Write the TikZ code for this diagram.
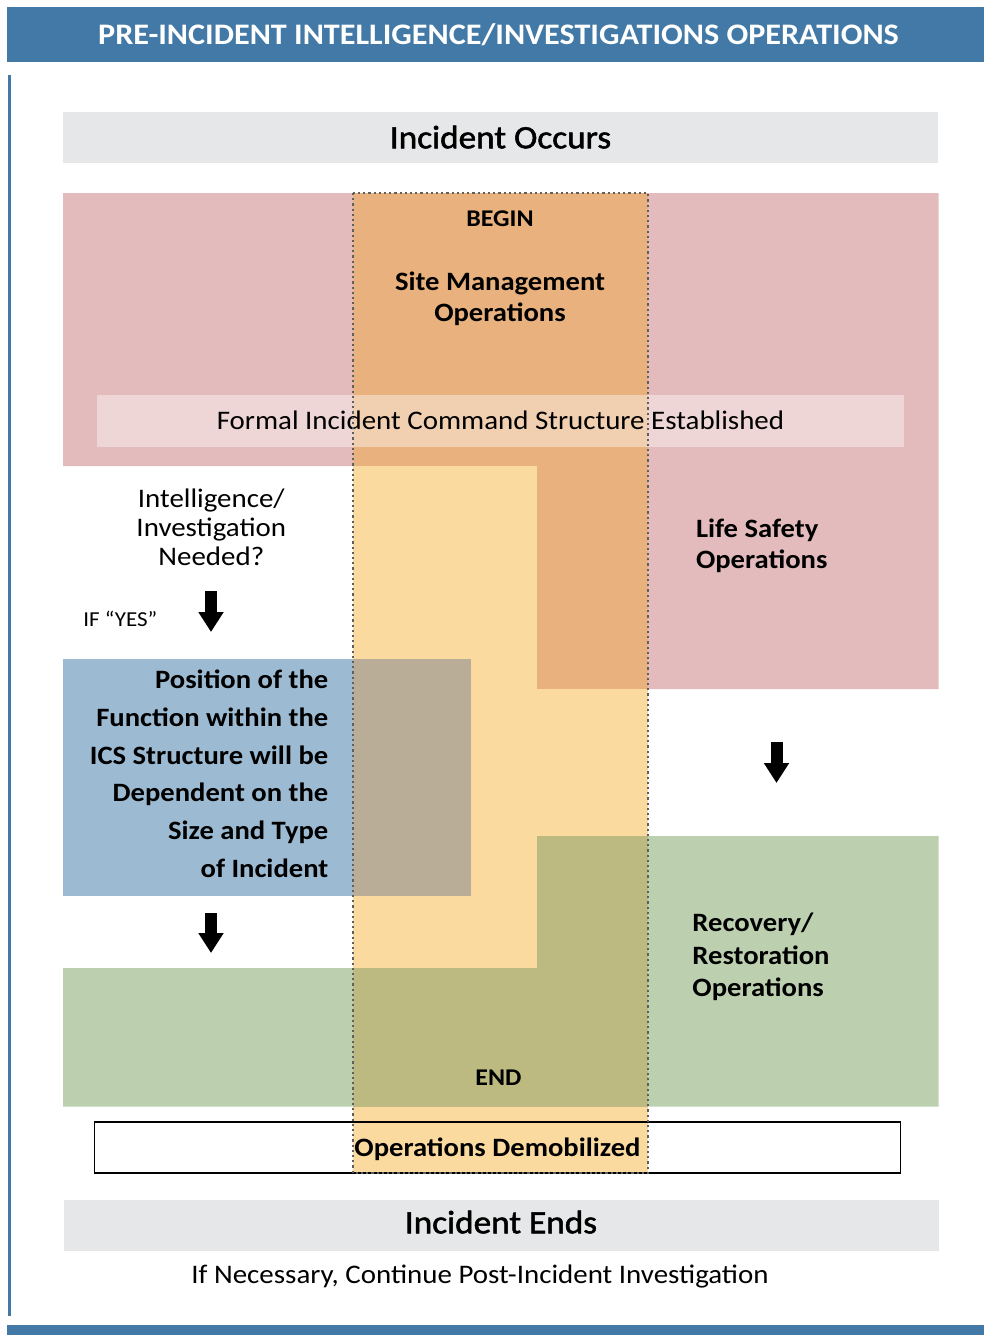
\documentclass[tikz,border=0pt]{standalone}
\usepackage{fontspec}
\setmainfont{Carlito}[FakeStretch=1.08]
\newfontfamily\heavyfont{Carlito}[FakeStretch=1.08, FakeBold=1.6]
\usetikzlibrary{arrows.meta}
\definecolor{hdr}{HTML}{4279A6}
\definecolor{grayc}{HTML}{E6E7E8}
\definecolor{pinkc}{HTML}{E3BBBD}
\definecolor{orangec}{HTML}{E9B17D}
\definecolor{yelc}{HTML}{FBDAA0}
\definecolor{bluec}{HTML}{9CBBD3}
\definecolor{tanc}{HTML}{B9AD98}
\definecolor{greenc}{HTML}{BCD0B0}
\definecolor{olivec}{HTML}{BCBA80}
\definecolor{dotc}{HTML}{5F5F5F}
\newcommand\myfs[2]{\fontsize{#1}{#2}\selectfont}
\begin{document}
\begin{tikzpicture}[x=1pt,y=-1pt,
  txt/.style={inner sep=0pt, outer sep=0pt, text=black},
  regtxt/.style={txt, font=\myfs{26.8}{28.7}},
  boldtxt/.style={txt, font=\myfs{26.5}{31.7}\bfseries},
  smallbold/.style={txt, font=\myfs{24}{26}\bfseries},
  graybox/.style={fill=grayc, inner sep=0pt, minimum width=875pt, minimum height=51pt, font=\heavyfont\myfs{32.6}{36}},
  blockarrow/.style={line width=12pt, -{Triangle[width=24pt,length=20pt]}},
  colborder/.style={draw=dotc, line width=2.4pt, dash pattern=on 2.2pt off 3pt}
]
\useasboundingbox (0,0) rectangle (984,1335);
% header and frame
\fill[hdr] (7,7) rectangle (984,62);
\node[txt, anchor=base, text=white, font=\myfs{29.8}{32}\bfseries] (title) at (498.5,44.5) {PRE-INCIDENT INTELLIGENCE/INVESTIGATIONS OPERATIONS};
\draw[hdr, line width=3pt] (9,75) -- (9,1316);
\fill[hdr] (7,1325) rectangle (984,1335);
% incident occurs
\node[graybox, text height=21.6pt, text depth=0pt] (occurs) at (500.5,137.5) {Incident Occurs};
% white fill under demobilized box
\fill[white] (95,1122) rectangle (900,1173);
% life safety (pink)
\fill[pinkc] (63,193) -- (938.5,193) -- (938.5,689) -- (537,689) -- (537,466) -- (63,466) -- cycle;
% recovery (green)
\fill[greenc] (537,836) -- (938.5,836) -- (938.5,1106.5) -- (63,1106.5) -- (63,968) -- (537,968) -- cycle;
% intelligence (blue)
\fill[bluec] (63,659) rectangle (471,896);
% site management column (yellow)
\fill[yelc] (353,193) rectangle (648,1173);
% overlaps
\fill[orangec] (353,193) rectangle (648,466);
\fill[orangec] (537,466) rectangle (648,689);
\fill[tanc] (353,659) rectangle (471,896);
\fill[olivec] (537,836) rectangle (648,968);
\fill[olivec] (353,968) rectangle (648,1106.5);
% formal ICS band
\node[fill=white, fill opacity=0.4, text opacity=1, inner sep=0pt, minimum width=807pt, minimum height=52pt,
      font=\myfs{26.8}{28.7}, text height=17pt, text depth=0pt] (formal) at (500.5,421) {Formal Incident Command Structure Established};
% operations demobilized box
\node[draw=black, line width=1.6pt, inner sep=0pt, minimum width=806pt, minimum height=51pt,
      font=\myfs{26.5}{28}\bfseries, text height=17.6pt, text depth=0pt] (demob) at (497.5,1147.5) {Operations Demobilized};
% dotted column outline
\draw[colborder] (353,193) rectangle (648,1173);
% labels (multi-line nodes: base = last line)
\node[smallbold, anchor=base] (begin) at (500,226.7) {BEGIN};
\node[boldtxt, anchor=base, align=center] (site) at (500,321.7) {Site Management\\Operations};
\node[regtxt, anchor=base, align=center] (intel) at (211.3,565) {Intelligence/\\Investigation\\Needed?};
\node[txt, anchor=base west, font=\myfs{21.3}{23}] (ifyes) at (83.3,626.7) {IF “YES”};
\node[boldtxt, anchor=base west, align=left, font=\myfs{26.5}{31}\bfseries] (life) at (696,568.3) {Life Safety\\Operations};
\node[boldtxt, anchor=base east, align=right, font=\myfs{26.5}{37.9}\bfseries] (position) at (328.3,877.7) {Position of the\\Function within the\\ICS Structure will be\\Dependent on the\\Size and Type\\of Incident};
\node[boldtxt, anchor=base west, align=left, font=\myfs{26.5}{32.5}\bfseries] (recovery) at (692.4,996.7) {Recovery/\\Restoration\\Operations};
\node[smallbold, anchor=base] (endlbl) at (498.4,1085.7) {END};
% incident ends
\node[graybox, text height=15.6pt, text depth=0pt] (ends) at (501,1225.5) {Incident Ends};
\node[regtxt, anchor=base] (post) at (480,1283) {If Necessary, Continue Post-Incident Investigation};
% arrows
\coordinate (a1s) at (211,591); \coordinate (a1e) at (211,632);
\coordinate (a2s) at (776.5,742); \coordinate (a2e) at (776.5,783);
\coordinate (a3s) at (211,913); \coordinate (a3e) at (211,953);
\draw[blockarrow] (a1s) -- (a1e);
\draw[blockarrow] (a2s) -- (a2e);
\draw[blockarrow] (a3s) -- (a3e);
\end{tikzpicture}
\end{document}
